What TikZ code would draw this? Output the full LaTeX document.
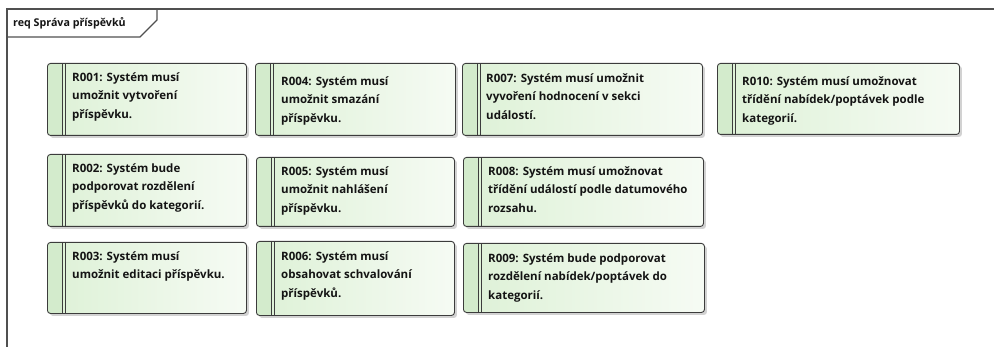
\documentclass[tikz,border=0pt]{standalone}
\usepackage{fontspec}
\setmainfont{Open Sans}
\usetikzlibrary{shadows,calc}

\definecolor{frameline}{HTML}{505050}
\definecolor{reqborder}{HTML}{3C3C3C}
\definecolor{reqstripe}{HTML}{D3EBCC}
\definecolor{reqleft}{HTML}{DDF1D6}
\definecolor{reqright}{HTML}{F6FBF4}
\definecolor{reqink}{HTML}{141414}

% strut that fixes the height of the first text line
\newcommand\reqfirst{\rule{0pt}{10pt}}

\tikzset{
  frame/.style={draw=frameline, line width=1.4pt},
  reqbox/.style={draw=reqborder, line width=0.9pt, rounded corners=3pt,
    anchor=north west, inner sep=0pt,
    left color=reqleft, right color=reqright,
    drop shadow={shadow xshift=2.5pt, shadow yshift=-2.5pt, opacity=0.25, fill=black!70},
    path picture={
      \fill[reqstripe] (path picture bounding box.north west)
        rectangle ([xshift=15pt]path picture bounding box.south west);
      \draw[reqborder, line width=0.8pt]
        ([xshift=15pt]path picture bounding box.north west)
        -- ([xshift=15pt]path picture bounding box.south west);
      \draw[reqborder, line width=0.8pt]
        ([xshift=18pt]path picture bounding box.north west)
        -- ([xshift=18pt]path picture bounding box.south west);
    }},
  reqtext/.style={anchor=north west, align=left, inner sep=0pt, text=reqink,
    font=\bfseries\fontsize{11.5}{18.5}\selectfont},
  tabtext/.style={anchor=west, inner sep=0pt, text=reqink,
    font=\bfseries\fontsize{10.7}{12}\selectfont},
}

\begin{document}
\begin{tikzpicture}[x=1pt, y=-1pt]
\useasboundingbox (0,0) rectangle (995,347);

% diagram frame and its name tab
\draw[frame] (7,347) -- (7,9) -- (994,9);
\draw[frame] (7,37) -- (140,37) -- (157,20) -- (157,9);
\node[tabtext] (tab) at (13,23) {req Správa příspěvků};

% requirement boxes
\node[reqbox, minimum width=199pt, minimum height=72pt] (r001) at (47,63) {};
\node[reqbox, minimum width=200pt, minimum height=72pt] (r004) at (255,63) {};
\node[reqbox, minimum width=240pt, minimum height=72pt] (r007) at (462,63) {};
\node[reqbox, minimum width=242pt, minimum height=71pt] (r010) at (717,63) {};
\node[reqbox, minimum width=199pt, minimum height=72pt] (r002) at (47,154) {};
\node[reqbox, minimum width=198pt, minimum height=69pt] (r005) at (256,157) {};
\node[reqbox, minimum width=240pt, minimum height=69pt] (r008) at (463,157) {};
\node[reqbox, minimum width=199pt, minimum height=71pt] (r003) at (47,242) {};
\node[reqbox, minimum width=198pt, minimum height=74pt] (r006) at (256,241) {};
\node[reqbox, minimum width=241pt, minimum height=69pt] (r009) at (463,243) {};

% requirement texts
\node[reqtext] (t001) at ($(r001.north west)+(25,8)$)
  {\reqfirst R001: Systém musí\\umožnit vytvoření\\příspěvku.};
\node[reqtext] (t004) at ($(r004.north west)+(26,12)$)
  {\reqfirst R004: Systém musí\\umožnit smazání\\příspěvku.};
\node[reqtext] (t007) at ($(r007.north west)+(24,9)$)
  {\reqfirst R007: Systém musí umožnit\\vyvoření hodnocení v sekci\\událostí.};
\node[reqtext] (t010) at ($(r010.north west)+(25,12)$)
  {\reqfirst R010: Systém musí umožnovat\\třídění nabídek/poptávek podle\\kategorií.};
\node[reqtext] (t002) at ($(r002.north west)+(25,8)$)
  {\reqfirst R002: Systém bude\\podporovat rozdělení\\příspěvků do kategorií.};
\node[reqtext] (t005) at ($(r005.north west)+(25,8)$)
  {\reqfirst R005: Systém musí\\umožnit nahlášení\\příspěvku.};
\node[reqtext] (t008) at ($(r008.north west)+(25,8)$)
  {\reqfirst R008: Systém musí umožnovat\\třídění událostí podle datumového\\rozsahu.};
\node[reqtext] (t003) at ($(r003.north west)+(25,8)$)
  {\reqfirst R003: Systém musí\\umožnit editaci příspěvku.};
\node[reqtext] (t006) at ($(r006.north west)+(25,9)$)
  {\reqfirst R006: Systém musí\\obsahovat schvalování\\příspěvků.};
\node[reqtext] (t009) at ($(r009.north west)+(25,9)$)
  {\reqfirst R009: Systém bude podporovat\\rozdělení nabídek/poptávek do\\kategorií.};
\end{tikzpicture}
\end{document}
